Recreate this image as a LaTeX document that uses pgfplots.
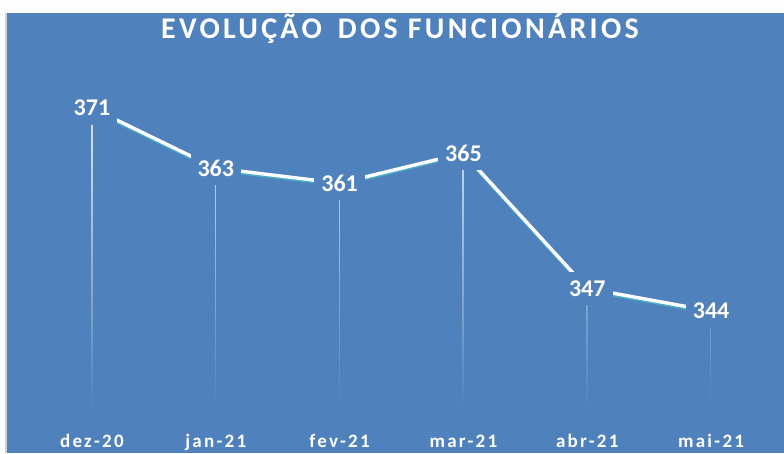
\documentclass[border=0pt]{standalone}
\usepackage{pgfplots}
\pgfplotsset{compat=1.18}
\usepackage{pgfplotstable}
\usepackage{fontspec}
\setmainfont{Carlito}
\usetikzlibrary{fadings,backgrounds}

\definecolor{bgblue}{HTML}{4F81BD}
\definecolor{shadowteal}{HTML}{4BACC6}
\definecolor{paper}{HTML}{FDFDFD}
\tikzfading[name=dropfade, top color=transparent!20, middle color=transparent!40, bottom color=transparent!100]

% staff count per month
\pgfplotstableread{
x y base
0 371 330.84
1 363 330.84
2 361 330.84
3 365 330.84
4 347 330.84
5 344 330.84
}\staff

\pgfplotsset{panel/.style={
    at={(0,0)}, anchor=south west,
    scale only axis,
    width=743pt, height=350pt,
    xmin=-0.5, xmax=5.5,
    axis line style={draw=none},
    ytick=\empty,
    major tick length=0pt,
}}

\begin{document}
\begin{tikzpicture}[x=1pt,y=1pt]
  % drop lines, measured from the baseline of the panel
  \begin{axis}[panel, ymin=0, ymax=46.54, xtick=\empty]
    \addplot[ycomb, white, line width=1.5pt, mark=none, path fading=dropfade]
      table[x=x, y expr=\thisrow{y}-\thisrow{base}] {\staff};
  \end{axis}

  \begin{axis}[panel,
    ymin=330.84, ymax=377.38,
    clip=false,
    xtick=data,
    xticklabels={dez-20, jan-21, fev-21, mar-21, abr-21, mai-21},
    xticklabel style={anchor=base, yshift=-37pt, text=white,
      font=\bfseries\fontsize{19}{19}\selectfont\addfontfeatures{LetterSpace=12}},
    /pgf/number format/assume math mode=true,
  ]
    \coordinate (sw) at (rel axis cs:0,0);
    % teal shadow under the line
    \addplot[shadowteal, line width=3pt, mark=none, yshift=-1.8pt]
      table[x=x, y=y] {\staff};
    % main line with labels
    \addplot[white, line width=3.4pt, mark=none,
      nodes near coords,
      nodes near coords align={center},
      every node near coord/.append style={anchor=center, fill=bgblue,
        text=white, inner xsep=7pt, inner ysep=9pt, text depth=0pt,
        font=\bfseries\fontsize{24}{24}\selectfont}]
      table[x=x, y=y] {\staff};
  \end{axis}

  % frame and title, placed from the corner of the plot area
  \begin{scope}[shift={(sw)}]
    \node[anchor=base, text=white, font=\bfseries\fontsize{30}{30}\selectfont\addfontfeatures{LetterSpace=11}]
      at (370,371) {EVOLUÇÃO\hspace{6pt} DOS FUNCIONÁRIOS};
    \begin{pgfonlayer}{background}
      \fill[paper] (-30,-43) rectangle (754,410);
      \fill[black!18] (-25,-43) rectangle (-23,397);
      \fill[bgblue] (-23,-43) rectangle (754,397);
    \end{pgfonlayer}
    \useasboundingbox (-30,-43) rectangle (754,410);
  \end{scope}
\end{tikzpicture}
\end{document}
